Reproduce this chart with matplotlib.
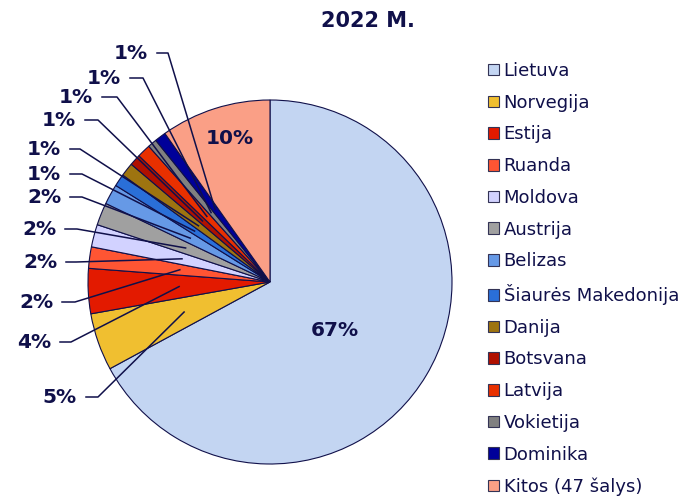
import numpy as np
import matplotlib.pyplot as plt
from matplotlib.patches import Patch

countries = ["Lietuva", "Norvegija", "Estija", "Ruanda", "Moldova", "Austrija",
             "Belizas", "Šiaurės Makedonija", "Danija", "Botsvana", "Latvija",
             "Vokietija", "Dominika", "Kitos (47 šalys)"]
shares = [67.1, 5.1, 4.0, 1.9, 2.0, 2.0, 1.8, 1.1, 1.2, 1.0, 1.2, 0.8, 1.0, 9.8]
colors = ["#c3d5f2", "#f0bf30", "#e31a00", "#ff5533", "#d2d2ff", "#a0a0a0",
          "#6699e6", "#2a6fd8", "#9e7410", "#b01000", "#e83000", "#808080",
          "#000099", "#fa9f86"]

navy = "#10104a"

# pixel layout helpers: pie centre (270, 282), radius 182 px
CX, CY, R = 270, 282, 182
W, H = 693, 504


def px(x, y):
    return ((x - CX) / R, (CY - y) / R)


fig = plt.figure(figsize=(W / 100, H / 100), dpi=100)
ax = fig.add_axes([0, 0, 1, 1])
wedges, _ = ax.pie(shares, colors=colors, startangle=90, counterclock=False,
                   radius=1, center=(0, 0),
                   wedgeprops=dict(edgecolor=navy, linewidth=0.8))
ax.set_xlim(-CX / R, (W - CX) / R)
ax.set_ylim(-(H - CY) / R, CY / R)
ax.set_aspect("equal")
ax.axis("off")

# leader line start (px) and elbow x, per wedge; None = label inside
leaders = [None, (86, 397, 98), (60, 342, 71), (62, 302, 75), (66, 262, 76),
           (65, 229, 77), (70, 197, 82), (70, 174, 82), (70, 149, 80),
           (85, 120, 98), (102, 97, 117), (130, 78, 143), (157, 53, 168), None]
inside = {0: (335, 331), 13: (230, 139)}

for i, (w, s) in enumerate(zip(wedges, shares)):
    lab = "%.0f%%" % s
    if leaders[i] is None:
        ax.text(*px(*inside[i]), lab, ha="center", va="center",
                fontsize=14.5, fontweight="bold", color=navy)
        continue
    sx, sy, ex = leaders[i]
    mid = np.deg2rad((w.theta1 + w.theta2) / 2)
    tx, ty = 0.5 * np.cos(mid), 0.5 * np.sin(mid)
    p0, p1 = px(sx, sy), px(ex, sy)
    ax.plot([p0[0], p1[0], tx], [p0[1], p1[1], ty], color=navy, lw=1.1)
    ax.text(*px(sx - 9, sy + 1), lab, ha="right", va="center",
            fontsize=14.5, fontweight="bold", color=navy)

ax.text(*px(368, 21), "2022 M.", ha="center", va="center",
        fontsize=15, fontweight="bold", color=navy)

handles = [Patch(facecolor=c, edgecolor="#333355", linewidth=0.8) for c in colors]
ax.legend(handles, countries, loc="upper left", bbox_to_anchor=(488 / W, 1 - 62 / H),
          frameon=False, fontsize=13, labelcolor=navy, handlelength=0.62,
          handleheight=0.62, handletextpad=0.25, labelspacing=0.76,
          borderaxespad=0, borderpad=0)

fig.savefig("out.png", dpi=100)
